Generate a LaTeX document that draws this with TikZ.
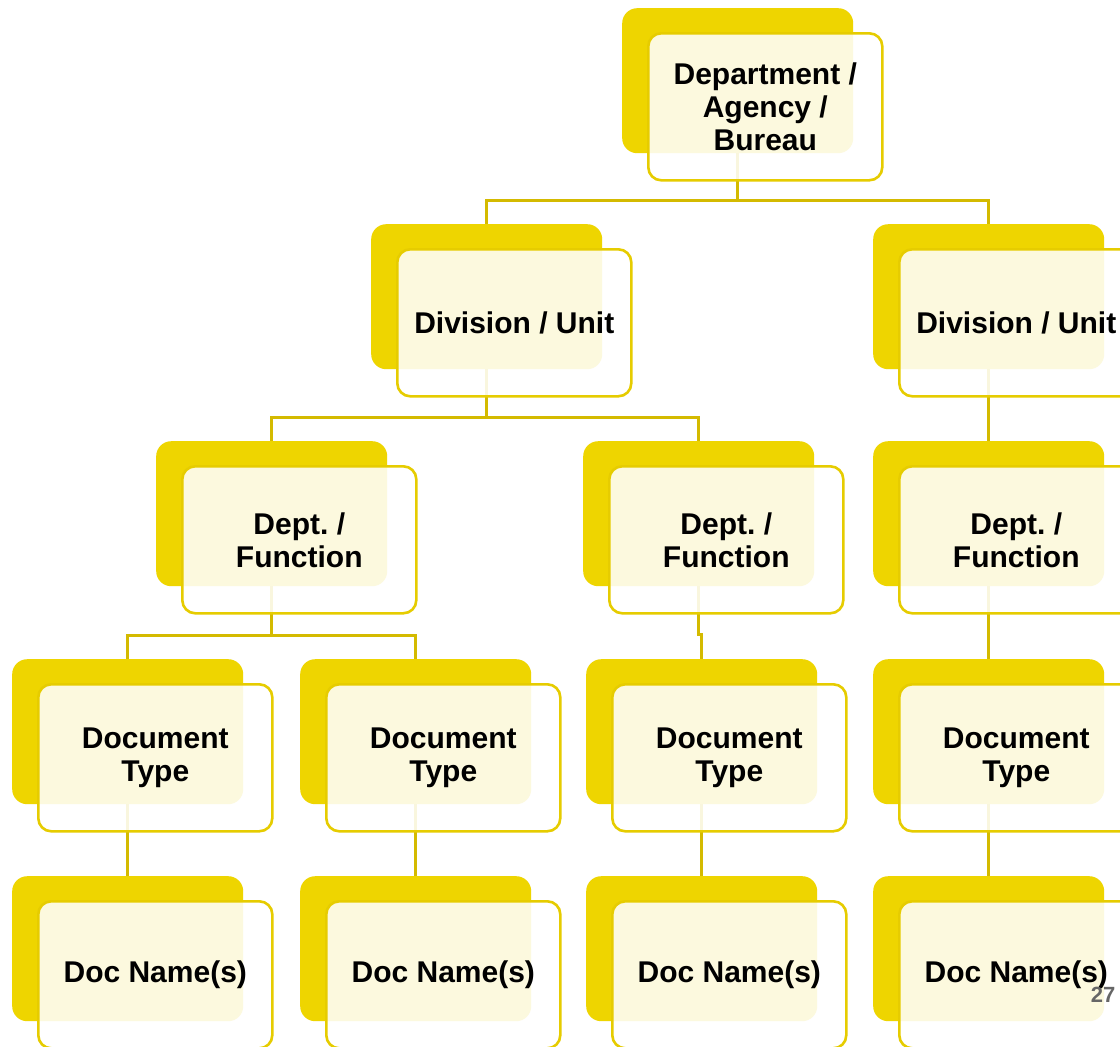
\documentclass[tikz,border=0pt]{standalone}
\usepackage{fontspec}
\setmainfont{Liberation Sans}
\usetikzlibrary{calc}
\definecolor{yel}{HTML}{EED500}
\definecolor{yelb}{HTML}{E6CC00}
\definecolor{connc}{HTML}{D4BA00}
\definecolor{pgnum}{HTML}{666666}
\pgfdeclarelayer{bg}
\pgfdeclarelayer{back}
\pgfsetlayers{bg,back,main}
\frenchspacing
\tikzset{
  backbox/.style={fill=yel, rounded corners=15pt, minimum width=231pt, minimum height=145pt, anchor=north west, inner sep=0pt},
  frontbox/.style={draw=yelb, line width=2.6pt, fill=white, fill opacity=0.87, text opacity=1, rounded corners=13pt,
    minimum width=234pt, minimum height=147pt, anchor=north west, inner sep=0pt, align=center,
    font=\bfseries\fontsize{30}{33}\selectfont},
  connline/.style={draw=connc, line width=2.6pt},
  pagenum/.style={text=pgnum, font=\bfseries\fontsize{22}{22}\selectfont, inner sep=0pt}
}
\newcommand{\orgbox}[4]{%
  \begin{pgfonlayer}{back}\node[backbox] (#1b) at (#2-25,#3-24) {};\end{pgfonlayer}
  \node[frontbox] (#1) at (#2,#3) {#4};}
\begin{document}
\begin{tikzpicture}[x=1pt,y=-1pt]
\useasboundingbox (0,0) rectangle (1120,1047);
\begin{pgfonlayer}{bg}
\fill[white] (0,0) rectangle (1120,1047);
\end{pgfonlayer}
\clip (0,0) rectangle (1120,1047);
\orgbox{top}{647}{32}{Department /\\Agency /\\Bureau}
\orgbox{dA}{396}{248}{Division / Unit}
\orgbox{dB}{898}{248}{Division / Unit}
\orgbox{fA}{181}{465}{Dept. /\\Function}
\orgbox{fB}{608}{465}{Dept. /\\Function}
\orgbox{fC}{898}{465}{Dept. /\\Function}
\orgbox{tA}{37}{683}{Document\\Type}
\orgbox{tB}{325}{683}{Document\\Type}
\orgbox{tC}{611}{683}{Document\\Type}
\orgbox{tD}{898}{683}{Document\\Type}
\orgbox{nA}{37}{900}{Doc Name(s)}
\orgbox{nB}{325}{900}{Doc Name(s)}
\orgbox{nC}{611}{900}{Doc Name(s)}
\orgbox{nD}{898}{900}{Doc Name(s)}
\begin{pgfonlayer}{bg}
\draw[connline] (topb.center) -- ++(0,120) -| (dAb.north);
\draw[connline] (topb.center) -- ++(0,120) -| (dBb.north);
\draw[connline] (dAb.center) -- ++(0,121) -| (fAb.north);
\draw[connline] (dAb.center) -- ++(0,121) -| (fBb.north);
\draw[connline] (dBb.center) -- (fCb.north);
\draw[connline] (fAb.center) -- ++(0,122) -| (tAb.north);
\draw[connline] (fAb.center) -- ++(0,122) -| (tBb.north);
\draw[connline] (fBb.center) -- ++(0,121) -| (tCb.north);
\draw[connline] (fCb.center) -- (tDb.north);
\draw[connline] (tAb.center) -- (nAb.north);
\draw[connline] (tBb.center) -- (nBb.north);
\draw[connline] (tCb.center) -- (nCb.north);
\draw[connline] (tDb.center) -- (nDb.north);
\end{pgfonlayer}
\node[pagenum] (pg) at (1103,995) {27};
\end{tikzpicture}
\end{document}
